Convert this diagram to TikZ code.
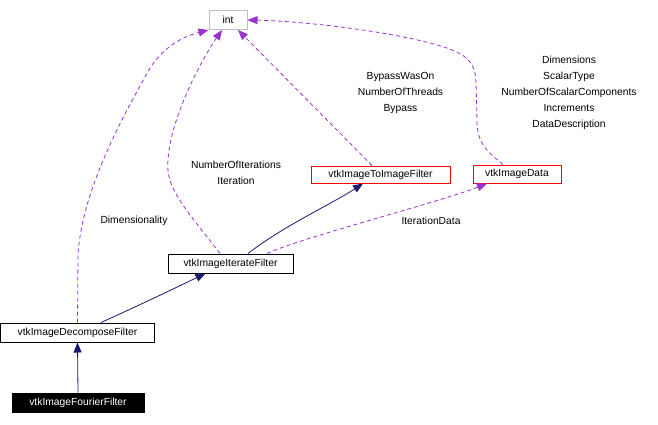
\documentclass[tikz,border=0pt]{standalone}
\usepackage{fontspec}
\setmainfont{Liberation Sans}
\usetikzlibrary{arrows.meta}
\definecolor{edgepurple}{HTML}{9A32CD}
\definecolor{edgenavy}{HTML}{191970}
\definecolor{boxgray}{HTML}{BFBFBF}
\tikzset{
  cls/.style={draw=black, line width=1pt, fill=white, inner sep=0pt, font=\fontsize{10.3}{12}\selectfont},
  clsred/.style={cls, draw=red},
  clsgray/.style={cls, draw=boxgray},
  clsblack/.style={cls, fill=black, text=white},
  inherit/.style={draw=edgenavy, line width=0.8pt, -{Triangle[length=10pt,width=8pt]}},
  usage/.style={draw=edgepurple, line width=0.8pt, dash pattern=on 4pt off 3pt, -{Triangle[length=10pt,width=8pt]}},
  lbl/.style={font=\fontsize{10.3}{16}\selectfont, align=center, inner sep=0pt}
}
\begin{document}
\begin{tikzpicture}[x=1pt,y=-1pt]
\useasboundingbox (0,0) rectangle (658,424);
% nodes
\node[clsgray, minimum width=38pt, minimum height=19pt] (int) at (228,20) {int};
\node[clsred, minimum width=139pt, minimum height=17pt] (toimg) at (380.5,174.5) {vtkImageToImageFilter};
\node[clsred, minimum width=88pt, minimum height=18pt] (imgdata) at (517,174) {vtkImageData};
\node[cls, minimum width=125pt, minimum height=19pt] (iter) at (230.5,263.5) {vtkImageIterateFilter};
\node[cls, minimum width=154pt, minimum height=19pt] (decomp) at (77.5,332.5) {vtkImageDecomposeFilter};
\node[clsblack, minimum width=132pt, minimum height=19pt] (fourier) at (78,402.5) {vtkImageFourierFilter};
% inheritance edges
\draw[inherit] (fourier.north) -- (decomp.south);
\draw[inherit] ([xshift=23.5pt]decomp.north) .. controls (140,305) and (175,288) .. ([xshift=-25pt]iter.south);
\draw[inherit] ([xshift=17.5pt]iter.north) .. controls (285,225) and (330,205) .. ([xshift=-17.5pt]toimg.south);
% usage edges
\draw[usage] ([xshift=36.5pt]iter.north) .. controls (300,238) and (440,202) .. ([xshift=-30pt]imgdata.south);
\draw[usage] (decomp.north) -- (78,255) .. controls (82,190) and (122,118) .. (150,68) .. controls (165,45) and (185,36) .. (int.south west);
\draw[usage] ([xshift=-10.5pt]iter.north) .. controls (185,208) and (165,188) .. (168,160) .. controls (170,120) and (200,62) .. ([xshift=-6pt]int.south);
\draw[usage] ([xshift=-8.5pt]toimg.north) -- ([xshift=10pt]int.south);
\draw[usage] ([xshift=-14pt]imgdata.north) .. controls (485,150) and (477,142) .. (477,120) -- (476,82) .. controls (475,60) and (465,52) .. (430,43) .. controls (380,30) and (300,21) .. (int.east);
% labels
\node[lbl] (lDim) at (134,221) {Dimensionality};
\node[lbl] (lIter) at (236,173) {NumberOfIterations\\Iteration};
\node[lbl] (lBypass) at (400.5,93) {BypassWasOn\\NumberOfThreads\\Bypass};
\node[lbl] (lItData) at (431,221) {IterationData};
\node[lbl] (lData) at (569,93) {Dimensions\\ScalarType\\NumberOfScalarComponents\\Increments\\DataDescription};
\end{tikzpicture}
\end{document}
